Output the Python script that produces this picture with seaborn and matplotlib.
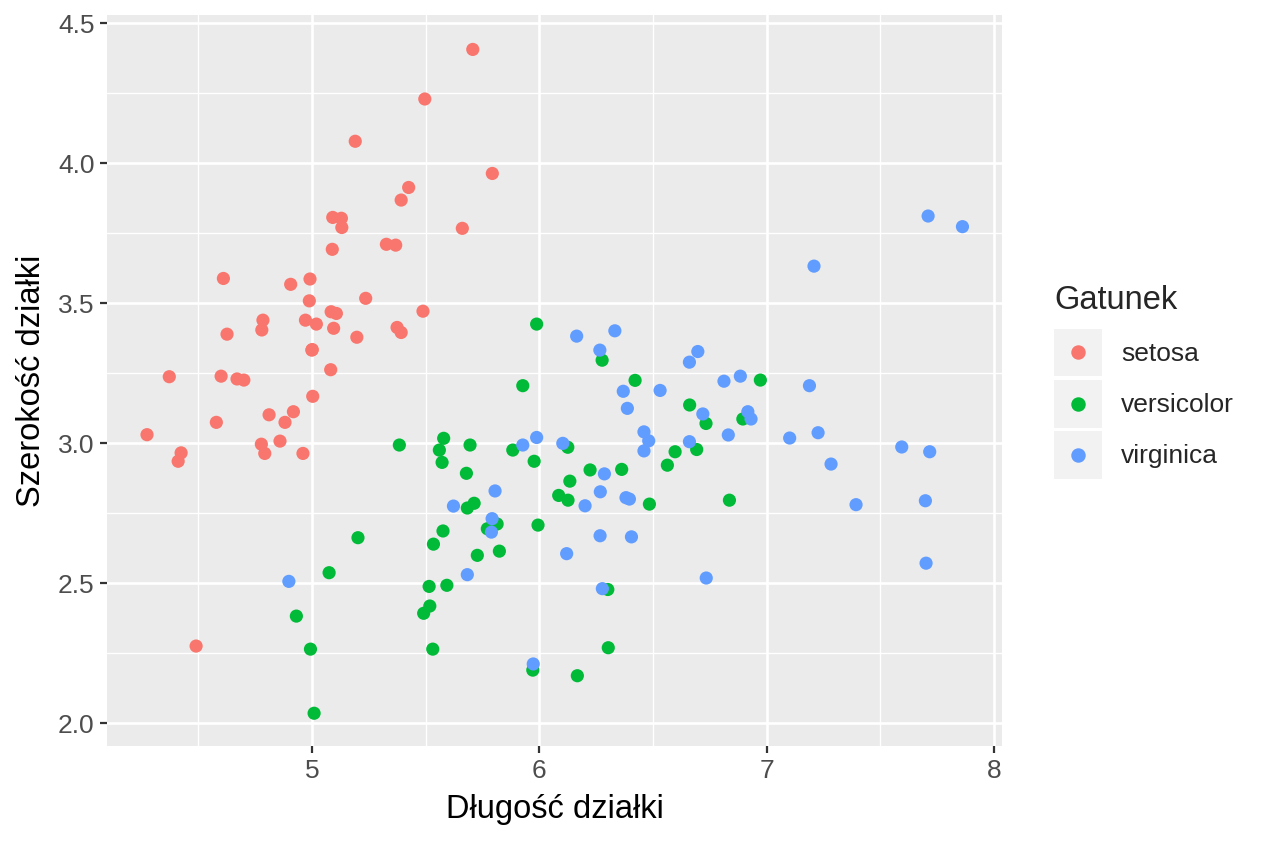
import matplotlib

matplotlib.use("Agg")
import matplotlib.pyplot as plt
import pandas as pd
import seaborn as sns
from matplotlib.legend_handler import HandlerBase
from matplotlib.lines import Line2D
from matplotlib.patches import Rectangle
from matplotlib.ticker import MultipleLocator

# jittered iris: sepal length / sepal width per species
setosa_x = [5.707, 5.496, 5.190, 5.793, 5.425, 5.392, 5.091, 5.129, 5.131, 5.661,
            5.089, 5.327, 5.368, 4.610, 4.906, 4.991, 5.236, 4.988, 5.488, 5.084,
            5.107, 4.784, 4.779, 4.971, 5.019, 5.095, 5.374, 5.392, 4.626, 5.197,
            4.999, 5.082, 4.372, 4.600, 4.670, 4.700, 5.003, 4.918, 4.811, 4.579,
            4.881, 4.274, 4.859, 4.777, 4.960, 4.424, 4.411, 4.792, 4.490, 5.001]
setosa_y = [4.406, 4.229, 4.078, 3.963, 3.913, 3.868, 3.806, 3.803, 3.770, 3.767,
            3.692, 3.710, 3.707, 3.588, 3.567, 3.586, 3.517, 3.508, 3.471, 3.469,
            3.463, 3.439, 3.404, 3.439, 3.425, 3.410, 3.413, 3.395, 3.389, 3.378,
            3.332, 3.262, 3.237, 3.239, 3.229, 3.225, 3.167, 3.112, 3.101, 3.074,
            3.074, 3.030, 3.007, 2.996, 2.963, 2.965, 2.935, 2.963, 2.275, 3.334]

versicolor_x = [5.384, 5.988, 5.927, 5.579, 5.560, 5.572, 5.695, 5.883, 5.977, 5.679,
                6.125, 6.134, 6.085, 6.126, 5.713, 5.683, 5.771, 5.814, 5.994, 5.576,
                5.534, 5.727, 5.824, 5.515, 5.593, 5.518, 5.491, 5.531, 5.971, 6.167,
                5.202, 5.075, 4.931, 4.993, 5.009, 6.276, 6.421, 6.972, 6.661, 6.733,
                6.895, 6.692, 6.597, 6.563, 6.223, 6.362, 6.484, 6.836, 6.301, 6.303]
versicolor_y = [2.993, 3.425, 3.205, 3.017, 2.975, 2.931, 2.993, 2.975, 2.935, 2.892,
                2.985, 2.864, 2.813, 2.796, 2.785, 2.768, 2.694, 2.711, 2.707, 2.686,
                2.639, 2.599, 2.614, 2.488, 2.492, 2.418, 2.392, 2.264, 2.189, 2.169,
                2.662, 2.537, 2.382, 2.264, 2.035, 3.296, 3.224, 3.225, 3.136, 3.070,
                3.086, 2.977, 2.969, 2.921, 2.904, 2.906, 2.782, 2.796, 2.477, 2.269]

virginica_x = [6.164, 5.927, 5.988, 6.103, 5.805, 5.622, 5.792, 5.789, 6.120, 5.683,
               5.973, 4.898, 6.332, 6.266, 6.697, 6.660, 6.369, 6.531, 6.387, 6.812,
               6.884, 6.719, 6.917, 6.931, 6.831, 6.460, 6.481, 6.460, 6.660, 6.286,
               6.268, 6.381, 6.396, 6.201, 6.267, 6.405, 6.734, 6.277, 7.710, 7.861,
               7.208, 7.188, 7.101, 7.226, 7.594, 7.717, 7.283, 7.393, 7.698, 7.701]
virginica_y = [3.382, 2.993, 3.020, 2.999, 2.829, 2.775, 2.730, 2.682, 2.605, 2.530,
               2.211, 2.506, 3.401, 3.332, 3.327, 3.289, 3.185, 3.188, 3.124, 3.221,
               3.239, 3.104, 3.112, 3.086, 3.029, 3.040, 3.008, 2.972, 3.005, 2.890,
               2.826, 2.805, 2.800, 2.776, 2.669, 2.665, 2.518, 2.480, 3.811, 3.773,
               3.632, 3.205, 3.018, 3.037, 2.986, 2.969, 2.925, 2.780, 2.794, 2.571]

species = ["setosa", "versicolor", "virginica"]
colors = ["#F8766D", "#00BA38", "#619CFF"]

df = pd.DataFrame({
    "x": setosa_x + versicolor_x + virginica_x,
    "y": setosa_y + versicolor_y + virginica_y,
    "Gatunek": [species[0]] * len(setosa_x) + [species[1]] * len(versicolor_x)
    + [species[2]] * len(virginica_x),
})

sns.set_style("white")
plt.rcParams["font.family"] = ["Liberation Sans", "DejaVu Sans"]


class KeyHandler(HandlerBase):
    """ggplot-like legend key: grey square with a dot."""

    def create_artists(self, legend, orig_handle, xdescent, ydescent,
                       width, height, fontsize, trans):
        box = Rectangle((-xdescent, -ydescent), width, height,
                        facecolor="#F2F2F2", edgecolor="none", transform=trans)
        dot = Line2D([-xdescent + width / 2], [-ydescent + height / 2],
                     marker="o", markersize=9.4, linestyle="none",
                     color=orig_handle.get_color(), transform=trans)
        return [box, dot]


fig = plt.figure(figsize=(12.64, 8.43), dpi=100)
ax = fig.add_axes([107 / 1264, 1 - 746 / 843, 895 / 1264, 731 / 843])
ax.set_facecolor("#EBEBEB")

sns.scatterplot(data=df, x="x", y="y", hue="Gatunek", hue_order=species,
                palette=colors, s=90, linewidth=0, alpha=1, legend=False,
                ax=ax, zorder=3)

ax.set_xlim(4.098, 8.035)
ax.set_ylim(1.918, 4.529)
ax.xaxis.set_minor_locator(MultipleLocator(0.5))
ax.yaxis.set_minor_locator(MultipleLocator(0.25))
ax.set_xticks([5, 6, 7, 8])
ax.set_xticklabels(["5", "6", "7", "8"])
ax.set_yticks([2.0, 2.5, 3.0, 3.5, 4.0, 4.5])
ax.set_yticklabels(["2.0", "2.5", "3.0", "3.5", "4.0", "4.5"])

ax.grid(which="major", color="white", linewidth=1.9)
ax.grid(which="minor", color="white", linewidth=1.0)
ax.set_axisbelow(True)
for sp in ax.spines.values():
    sp.set_visible(False)

ax.tick_params(axis="both", which="major", length=5, width=1.6, color="#333333",
               labelsize=19, labelcolor="#4D4D4D", pad=4, bottom=True, left=True)
ax.tick_params(axis="both", which="minor", length=0)

ax.set_xlabel("Długość działki", fontsize=23.5, color="black", labelpad=8)
ax.set_ylabel("Szerokość działki", fontsize=23.5, color="black", labelpad=8)

handles = [Line2D([], [], color=c) for c in colors]
leg = fig.legend(handles, species, title="Gatunek", handler_map={Line2D: KeyHandler()},
                 loc="upper left", bbox_to_anchor=(1054 / 1264, 1 - 285 / 843),
                 frameon=False, fontsize=19, title_fontsize=23.5,
                 handlelength=1.82, handleheight=2.42, handletextpad=0.72,
                 labelspacing=0.13, borderpad=0, borderaxespad=0, alignment="left")
# more room between legend title and keys
leg._legend_box.sep = 9

fig.savefig("out.png", dpi=100)
